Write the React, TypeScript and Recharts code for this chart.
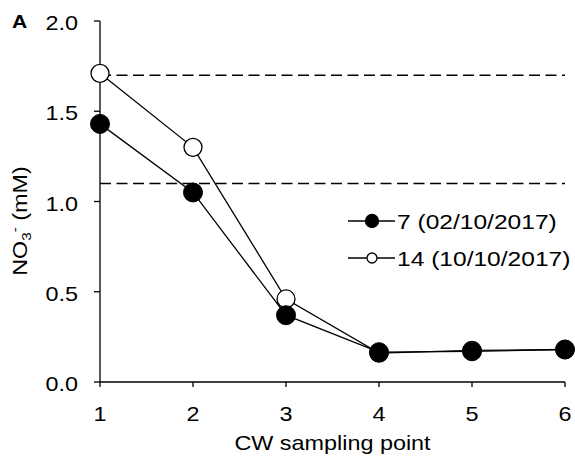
import { LineChart, Line, XAxis, YAxis, ReferenceLine, Label } from 'recharts';

const samplingPoints = [1, 2, 3, 4, 5, 6];
const day7 = [1.43, 1.05, 0.37, 0.165, 0.17, 0.18];
const day14 = [1.71, 1.3, 0.46, 0.16, 0.175, 0.18];
const thresholds = [1.7, 1.1];
const yTicks = [0, 0.5, 1.0, 1.5, 2.0];
const seriesNames = ['7 (02/10/2017)', '14 (10/10/2017)'];

const data = samplingPoints.map((p, i) => ({ point: p, d7: day7[i], d14: day14[i] }));

const FONT = 'Arial, "Liberation Sans", sans-serif';
// the original figure is a bit stretched sideways
const SX = 1.17;

function XTick({ x, y, payload }: any) {
  return (
    <g transform={`translate(${x},${y + 34}) scale(${SX},1)`}>
      <text textAnchor="middle" fontFamily={FONT} fontSize={20} fill="#000">
        {payload.value}
      </text>
    </g>
  );
}

function YTick({ x, y, payload }: any) {
  return (
    <g transform={`translate(${x - 16},${y + 9}) scale(${SX},1)`}>
      <text textAnchor="end" fontFamily={FONT} fontSize={20} fill="#000">
        {Number(payload.value).toFixed(1)}
      </text>
    </g>
  );
}

function XLabel() {
  return (
    <g transform={`translate(332.5,450) scale(${SX},1)`}>
      <text textAnchor="middle" fontFamily={FONT} fontSize={20} fill="#000">
        CW sampling point
      </text>
    </g>
  );
}

function YLabel() {
  return (
    <g transform={`translate(27,221) rotate(-90) scale(${SX},1)`}>
      <text textAnchor="middle" fontFamily={FONT} fontSize={20} fill="#000">
        NO<tspan fontSize={13} dy={4}>3</tspan>
        <tspan fontSize={13} dy={-12}>-</tspan>
        <tspan dy={8}> (mM)</tspan>
      </text>
    </g>
  );
}

function Overlay() {
  const rows = [
    { name: seriesNames[0], fill: '#000', r: 6.5, y: 221 },
    { name: seriesNames[1], fill: '#fff', r: 5, y: 258 },
  ];
  return (
    <svg width={575} height={464} style={{ position: 'absolute', left: 0, top: 0, pointerEvents: 'none' }}>
      <g transform={`translate(12,28) scale(${SX},1)`}>
        <text fontFamily={FONT} fontSize={18} fontWeight="bold" fill="#000">A</text>
      </g>
      {rows.map((r) => (
        <g key={r.name}>
          <line x1={348} y1={r.y} x2={395} y2={r.y} stroke="#000" strokeWidth={1.3} />
          <circle cx={372} cy={r.y} r={r.r} fill={r.fill} stroke="#000" strokeWidth={1.3} />
          <g transform={`translate(397,${r.y + 7.5}) scale(${SX},1)`}>
            <text fontFamily={FONT} fontSize={21} fill="#000">{r.name}</text>
          </g>
        </g>
      ))}
    </svg>
  );
}

export default function App() {
  return (
    <div style={{ position: 'absolute', left: 0, top: 0, width: 575, height: 464, background: '#fff' }}>
      <LineChart width={575} height={464} data={data} margin={{ top: 21, right: 10, bottom: 42, left: 40 }}>
        <XAxis
          dataKey="point"
          type="number"
          domain={[1, 6]}
          ticks={samplingPoints}
          height={40}
          stroke="#000"
          strokeWidth={1.3}
          tickSize={5}
          tickMargin={0}
          tick={<XTick />}
        >
          <Label content={<XLabel />} />
        </XAxis>
        <YAxis
          type="number"
          domain={[0, 2]}
          ticks={yTicks}
          width={60}
          stroke="#000"
          strokeWidth={1.3}
          tickSize={6}
          tickMargin={0}
          tick={<YTick />}
        >
          <Label content={<YLabel />} />
        </YAxis>
        {thresholds.map((t) => (
          <ReferenceLine key={t} y={t} stroke="#000" strokeWidth={1.5} strokeDasharray="11 5.5" />
        ))}
        <Line
          dataKey="d14"
          name={seriesNames[1]}
          stroke="#000"
          strokeWidth={1.3}
          dot={{ r: 9, fill: '#fff', stroke: '#000', strokeWidth: 1.3 }}
          isAnimationActive={false}
        />
        <Line
          dataKey="d7"
          name={seriesNames[0]}
          stroke="#000"
          strokeWidth={1.3}
          dot={{ r: 9.5, fill: '#000', stroke: '#000', strokeWidth: 1 }}
          isAnimationActive={false}
        />
      </LineChart>
      <Overlay />
    </div>
  );
}
